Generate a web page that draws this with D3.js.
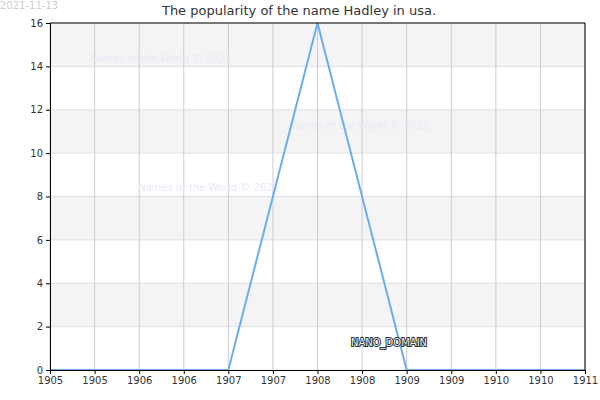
<!DOCTYPE html><html><head><meta charset="utf-8"><script src="https://cdn.jsdelivr.net/npm/d3@7"></script>
<style>body{margin:0;background:#fff}</style></head><body><svg id="c" width="600" height="400"></svg>
<script>
const years=[1905,1905.5,1906,1906.5,1907,1907.5,1908,1908.5,1909,1909.5,1910,1910.5,1911];
const values=[0,0,0,0,0,8,16,8,0,0,0,0,0];
const yTicks=[0,2,4,6,8,10,12,14,16];
const svg=d3.select("#c"),m={l:50,r:15,t:23,b:30},W=600,H=400;
const x=d3.scaleLinear().domain([1905,1911]).range([m.l,W-m.r]);
const y=d3.scaleLinear().domain([0,16]).range([H-m.b,m.t]);
const f="DejaVu Sans, sans-serif";
for(let i=0;i<8;i++){ if(i%2==1) svg.append("rect").attr("x",x(1905)).attr("width",x(1911)-x(1905)).attr("y",y(i*2+2)).attr("height",y(i*2)-y(i*2+2)).attr("fill","#f4f4f4");}
svg.selectAll(".hg").data(yTicks).enter().append("line").attr("x1",x(1905)).attr("x2",x(1911)).attr("y1",d=>y(d)).attr("y2",d=>y(d)).attr("stroke","#e0e0e0");
svg.selectAll(".vg").data(years).enter().append("line").attr("x1",d=>x(d)).attr("x2",d=>x(d)).attr("y1",y(0)).attr("y2",y(16)).attr("stroke","#ccc");
const wm=[[90,62],[288,129],[138,191]];
wm.forEach(p=>svg.append("text").attr("x",p[0]).attr("y",p[1]).attr("font-family",f).attr("font-size",10).attr("fill","#e8eaf8").text("Names of the World © 2021"));
svg.append("path").datum(values).attr("fill","none").attr("stroke","#6aaef0").attr("stroke-width",2)
 .attr("d",d3.line().x((d,i)=>x(years[i])).y(d=>y(d)));
const xa=svg.append("g").attr("transform",`translate(0,${y(0)})`).call(d3.axisBottom(x).tickValues(years).tickFormat(d=>Math.floor(d)).tickSize(4));
const ya=svg.append("g").attr("transform",`translate(${m.l},0)`).call(d3.axisLeft(y).tickValues(yTicks).tickSize(4));
[xa,ya].forEach(a=>{a.selectAll("text").attr("font-family",f).attr("font-size",10).attr("fill","#333");a.selectAll("line,path").attr("stroke","#000");});
svg.append("line").attr("x1",x(1911)).attr("x2",x(1911)).attr("y1",y(0)).attr("y2",y(16)).attr("stroke","#000");
svg.append("line").attr("x1",x(1905)).attr("x2",x(1911)).attr("y1",y(16)).attr("y2",y(16)).attr("stroke","#000");
svg.append("text").attr("x",299).attr("y",15).attr("text-anchor","middle").attr("font-family",f).attr("font-size",13).attr("fill","#333").text("The popularity of the name Hadley in usa.");
svg.append("text").attr("x",0).attr("y",9).attr("font-family",f).attr("font-size",10).attr("fill","#ccc").text("2021-11-13");
svg.append("text").attr("x",389).attr("y",346).attr("text-anchor","middle").attr("font-family",f).attr("font-size",10).attr("fill","#eee").attr("stroke","#333").attr("stroke-width",2).attr("paint-order","stroke").text("NANO_DOMAIN");
</script></body></html>
